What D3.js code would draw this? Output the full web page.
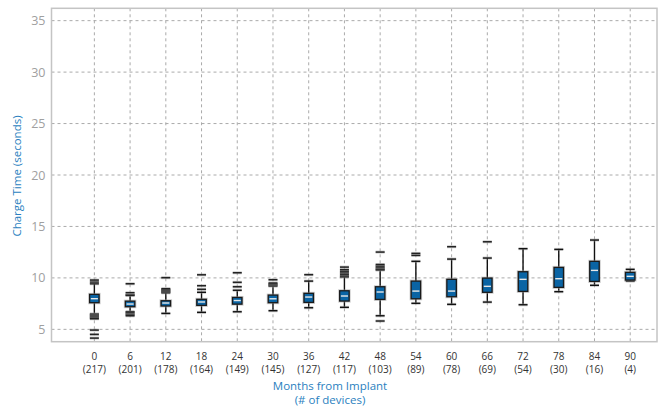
<!DOCTYPE html>
<html><head><meta charset="utf-8">
<script src="https://cdn.jsdelivr.net/npm/d3@7"></script>
<style>body{margin:0;background:#fff;}svg{display:block;font-family:"Open Sans",sans-serif;}</style>
</head><body><svg id="c" width="666" height="412"></svg>
<script>
const months = [0,6,12,18,24,30,36,42,48,54,60,66,72,78,84,90];
const counts = [217,201,178,164,149,145,127,117,103,89,78,69,54,30,16,4];
const q1     = [7.59,7.2,7.27,7.33,7.45,7.59,7.62,7.75,7.91,7.97,8.17,8.6,8.69,9.08,9.66,9.79];
const median = [7.98,7.46,7.56,7.66,7.8,7.97,8.14,8.24,8.63,8.72,8.72,9.18,9.86,9.92,10.73,10.15];
const q3     = [8.4,7.74,7.78,7.92,8.1,8.33,8.5,8.75,9.14,9.69,9.86,9.98,10.6,11.02,11.61,10.54];
const whiskerLow  = [6.5,6.72,6.55,6.65,6.71,6.81,7.1,7.14,6.32,7.53,7.43,7.65,7.39,8.66,9.28,9.69];
const whiskerHigh = [9.43,8.35,8.55,8.6,8.8,9.2,9.69,10.1,10.76,11.61,11.83,11.93,12.84,12.77,13.68,10.83];
const outliers = [
  [9.6,9.79,6.42,6.32,6.22,6.12,6.03,4.93,4.51,4.15],
  [8.56,8.3,9.43,6.6,6.45,6.32],
  [8.65,8.75,8.85,8.95,10.02],
  [8.89,9.24,10.3],
  [9.14,9.57,10.5],
  [9.3,9.4,9.5,9.82],
  [10.31],
  [10.2,10.35,10.5,10.65,10.8,11.05],
  [10.85,11.0,11.15,11.3,12.51,5.81],
  [12.19,12.38],
  [13.03],
  [13.51],
  [], [], [], []
];
const yTicks = [5,10,15,20,25,30,35];

const svg = d3.select("#c");
const L = 51.5, R = 657, T = 8.3, B = 341.7;
const x = d3.scaleLinear().domain([-7.2, 94.5]).range([L, R]);
const y = d3.scaleLinear().domain([3.8, 36.2]).range([B, T]);

const g = svg.append("g");
g.selectAll("line.h").data(yTicks).join("line")
  .attr("x1", L).attr("x2", R).attr("y1", d=>y(d)).attr("y2", d=>y(d))
  .attr("stroke", "#aaa").attr("stroke-width", 1).attr("stroke-dasharray", "3,3");
g.selectAll("line.v").data(months).join("line")
  .attr("x1", d=>x(d)).attr("x2", d=>x(d)).attr("y1", T).attr("y2", B)
  .attr("stroke", "#aaa").attr("stroke-width", 1).attr("stroke-dasharray", "3,3");

svg.append("rect").attr("x", L).attr("y", T).attr("width", R-L).attr("height", B-T)
  .attr("fill", "none").attr("stroke", "#c4c4c4").attr("stroke-width", 1.5);

const yAxis = d3.axisLeft(y).tickValues(yTicks).tickSize(0).tickPadding(6);
const ya = svg.append("g").attr("transform", `translate(${L},0)`).call(yAxis);
ya.select(".domain").remove();
ya.selectAll("text").attr("fill", "#a0a0a0").style("font-size", "12.5px").style("font-family", "'Open Sans',sans-serif");

const xa = svg.append("g").attr("transform", `translate(0,${B})`);
months.forEach((m,i)=>{
  const t = xa.append("text").attr("x", x(m)).attr("text-anchor","middle")
    .attr("fill","#333").style("font-size","10px");
  t.append("tspan").attr("x", x(m)).attr("y", 18).text(m);
  t.append("tspan").attr("x", x(m)).attr("y", 31).text(`(${counts[i]})`);
});

svg.append("text").attr("x", 330).attr("y", 390).attr("text-anchor","middle")
  .attr("fill","#2a7fc0").style("font-size","11.5px").text("Months from Implant");
svg.append("text").attr("x", 330).attr("y", 404).attr("text-anchor","middle")
  .attr("fill","#2a7fc0").style("font-size","11.5px").text("(# of devices)");
svg.append("text").attr("transform", `translate(21,176) rotate(-90)`).attr("text-anchor","middle")
  .attr("fill","#2a7fc0").style("font-size","11.5px").text("Charge Time (seconds)");

const bw = 9.5, cw = 9;
const boxes = svg.append("g");
months.forEach((m,i)=>{
  const cx = x(m);
  const gb = boxes.append("g");
  gb.append("line").attr("x1",cx).attr("x2",cx).attr("y1",y(q3[i])).attr("y2",y(whiskerHigh[i]))
    .attr("stroke","#111").attr("stroke-width",1.4);
  gb.append("line").attr("x1",cx).attr("x2",cx).attr("y1",y(q1[i])).attr("y2",y(whiskerLow[i]))
    .attr("stroke","#111").attr("stroke-width",1.4);
  [whiskerHigh[i], whiskerLow[i]].forEach(v=>{
    gb.append("line").attr("x1",cx-cw/2).attr("x2",cx+cw/2).attr("y1",y(v)).attr("y2",y(v))
      .attr("stroke","#999").attr("stroke-width",3).attr("stroke-opacity",0.5);
    gb.append("line").attr("x1",cx-cw/2).attr("x2",cx+cw/2).attr("y1",y(v)).attr("y2",y(v))
      .attr("stroke","#111").attr("stroke-width",1.4);
  });
  outliers[i].forEach(v=>{
    gb.append("line").attr("x1",cx-cw/2).attr("x2",cx+cw/2).attr("y1",y(v)).attr("y2",y(v))
      .attr("stroke","#999").attr("stroke-width",3).attr("stroke-opacity",0.5);
    gb.append("line").attr("x1",cx-cw/2).attr("x2",cx+cw/2).attr("y1",y(v)).attr("y2",y(v))
      .attr("stroke","#222").attr("stroke-width",1.5);
  });
  gb.append("rect").attr("x",cx-bw/2).attr("y",y(q3[i])).attr("width",bw).attr("height",y(q1[i])-y(q3[i]))
    .attr("fill","none").attr("stroke","#999").attr("stroke-width",3).attr("stroke-opacity",0.5);
  gb.append("rect").attr("x",cx-bw/2).attr("y",y(q3[i])).attr("width",bw).attr("height",y(q1[i])-y(q3[i]))
    .attr("fill","#0a64a4").attr("stroke","#1a1a1a").attr("stroke-width",1.3);
  gb.append("line").attr("x1",cx-bw/2+1.2).attr("x2",cx+bw/2-1.2).attr("y1",y(median[i])).attr("y2",y(median[i]))
    .attr("stroke","#e8e8e8").attr("stroke-width",1.4);
});
</script></body></html>
